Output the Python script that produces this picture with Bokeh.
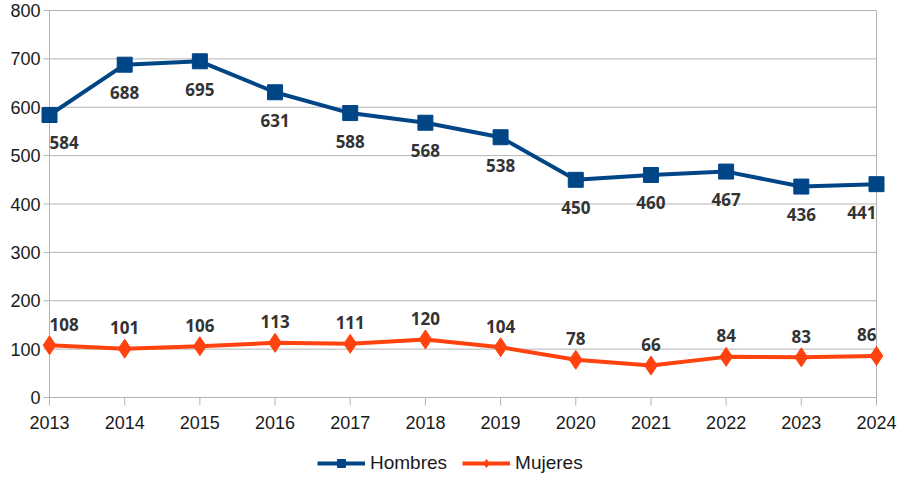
import math
from bokeh.plotting import figure
from bokeh.models import Range1d, Legend, LegendItem, ColumnDataSource
from bokeh.embed import file_html
from bokeh.resources import INLINE
from bokeh.core.properties import value

years = [2013, 2014, 2015, 2016, 2017, 2018, 2019, 2020, 2021, 2022, 2023, 2024]
hombres = [584, 688, 695, 631, 588, 568, 538, 450, 460, 467, 436, 441]
mujeres = [108, 101, 106, 113, 111, 120, 104, 78, 66, 84, 83, 86]
y_ticks = [0, 100, 200, 300, 400, 500, 600, 700, 800]

BLUE = "#004586"
ORANGE = "#ff420e"
GRID = "#b3b3b3"

x0, x1 = years[0], years[-1]
y0, y1 = y_ticks[0], y_ticks[-1]

# plot box: 2013..2024 spans 827px starting at px 49; 0..800 spans 387px ending at px 397
LEFT = 49
px_per_year = 827 / (x1 - x0)
px_per_unit = 387 / (y1 - y0)
W, H = 899, 474
xr = Range1d(x0 - LEFT / px_per_year, x0 + (W - LEFT) / px_per_year)
yr = Range1d(y0 - (H - 397) / px_per_unit, y0 + 397 / px_per_unit)

p = figure(width=W, height=H, output_backend="svg", toolbar_location=None,
           x_range=xr, y_range=yr, x_axis_location=None, y_axis_location=None,
           min_border=0)
p.outline_line_color = None
p.grid.visible = False

# gridlines
gl = [t for t in y_ticks if t != y0]
p.segment(x0=[x0] * len(gl), x1=[x1] * len(gl), y0=gl, y1=gl, line_color=GRID, line_width=1)
# axis lines and right border
p.segment(x0=[x0, x0, x1], x1=[x1, x0, x1], y0=[y0, y0, y0], y1=[y0, y1, y1],
          line_color=GRID, line_width=1)
# tick marks
p.ray(x=years, y=[y0] * len(years), length=8, length_units="screen",
      angle=-math.pi / 2, line_color=GRID, line_width=1)
p.ray(x=[x0] * len(y_ticks), y=y_ticks, length=6, length_units="screen",
      angle=math.pi, line_color=GRID, line_width=1)
# tick labels
p.text(x=years, y=[y0] * len(years), text=[str(v) for v in years], text_align="center",
       text_baseline="middle", y_offset=25, text_font=value("Liberation Sans"),
       text_font_size="18px", text_color="#1a1a1a")
p.text(x=[x0] * len(y_ticks), y=y_ticks, text=[str(v) for v in y_ticks], text_align="right",
       text_baseline="middle", x_offset=-9, text_font=value("Liberation Sans"),
       text_font_size="18px", text_color="#1a1a1a")

src = ColumnDataSource(dict(
    x=years, h=hombres, m=mujeres,
    hl=[str(v) for v in hombres], ml=[str(v) for v in mujeres],
    align=["left"] + ["center"] * (len(years) - 2) + ["right"],
))

lh = p.line("x", "h", source=src, line_color=BLUE, line_width=4)
sh = p.scatter("x", "h", source=src, marker="square", size=15, fill_color=BLUE, line_color=BLUE)
lm = p.line("x", "m", source=src, line_color=ORANGE, line_width=4)
sm = p.scatter("x", "m", source=src, marker="diamond", size=19, fill_color=ORANGE, line_color=ORANGE)

p.text("x", "h", text="hl", source=src, text_align="align", text_baseline="middle",
       y_offset=28, text_font=value("Open Sans"), text_font_style="bold",
       text_font_size="17px", text_color="#333333")
p.text("x", "m", text="ml", source=src, text_align="align", text_baseline="middle",
       y_offset=-21, text_font=value("Open Sans"), text_font_style="bold",
       text_font_size="17px", text_color="#333333")

legend = Legend(items=[LegendItem(label="Hombres", renderers=[lh, sh]),
                       LegendItem(label="Mujeres", renderers=[lm, sm])],
                orientation="horizontal", location=(317, 0),
                glyph_width=48, glyph_height=20, label_text_font="Liberation Sans",
                label_text_font_size="19px", label_text_color="#1a1a1a",
                border_line_color=None, background_fill_alpha=0,
                spacing=15, label_standoff=5, padding=0, margin=0)
p.add_layout(legend, "center")

open("out.html", "w").write(file_html(p, INLINE))
